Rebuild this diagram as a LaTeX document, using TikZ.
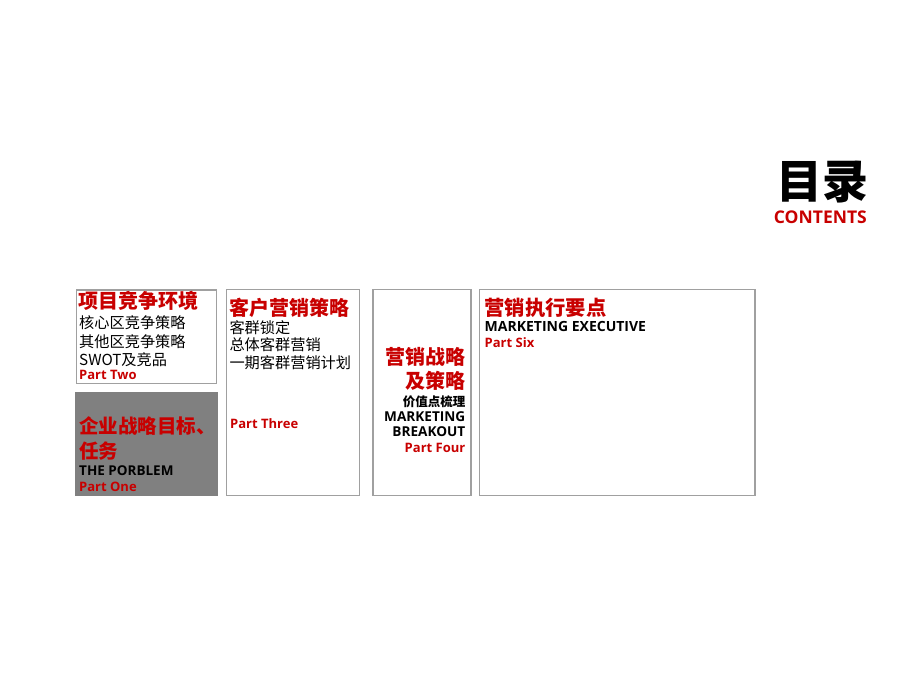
\documentclass[tikz,border=0pt]{standalone}
\usepackage{fontspec}
\usepackage{tikz}
\setmainfont{Open Sans}
\newfontfamily\cjk{Noto Sans CJK SC}
\definecolor{partred}{RGB}{200,0,0}
\definecolor{framegray}{RGB}{160,160,160}

\tikzset{
  box/.style={draw=framegray, line width=1.3pt},
  zhhead/.style={inner sep=0, text=partred, font=\cjk\bfseries\fontsize{#1}{#1}\selectfont},
  zhhead/.default=20,
  zhline/.style={inner sep=0, text=black, font=\cjk\fontsize{15.2}{15.2}\selectfont},
  enline/.style={inner sep=0, text=black, font=\bfseries\fontsize{#1}{#1}\selectfont},
  enline/.default=13.3,
  partlabel/.style={inner sep=0, text=partred, font=\bfseries\fontsize{13}{13}\selectfont}
}

\begin{document}
\begin{tikzpicture}[x=1pt, y=-1pt]

\useasboundingbox (0,0) rectangle (920,690);

\node[inner sep=0, font=\cjk\bfseries\fontsize{46}{46}\selectfont, anchor=base east] (mulu) at (869,198) {目录};
\node[inner sep=0, text=partred, font=\bfseries\fontsize{17.5}{17.5}\selectfont, anchor=base east] (contents) at (867,223.5) {CONTENTS};

\draw[box] (76.7,290) rectangle (216.7,383.3);
\fill[gray] (75,391.7) rectangle (217.7,496);
\draw[box] (226.7,289.5) rectangle (359.5,495.7);
\draw[box] (373,289.5) rectangle (471,495.7);
\draw[box] (479.7,289.7) rectangle (755,495.7);

\node[zhhead, anchor=base west] (two) at (78.5,308.5) {项目竞争环境};
\node[zhline, anchor=base west] (twoa) at (79,328.8) {核心区竞争策略};
\node[zhline, anchor=base west] (twob) at (79,347) {其他区竞争策略};
\node[zhline, anchor=base west] (twoc) at (79,365.3) {SWOT及竞品};
\node[partlabel, anchor=base west] (twopart) at (79,379) {Part Two};

\node[zhhead=19.5, anchor=base west] (one) at (79,433.5) {企业战略目标、};
\node[zhhead=19.5, anchor=base west] (onea) at (79,458.5) {任务};
\node[enline=13.5, anchor=base west] (oneb) at (79,475.7) {THE PORBLEM};
\node[partlabel, anchor=base west] (onepart) at (79,491) {Part One};

\node[zhhead, anchor=base west] (three) at (229.3,315) {客户营销策略};
\node[zhline, anchor=base west] (threea) at (229.3,333) {客群锁定};
\node[zhline, anchor=base west] (threeb) at (229.3,350.5) {总体客群营销};
\node[zhline, anchor=base west] (threec) at (229.3,368.7) {一期客群营销计划};
\node[partlabel, anchor=base west] (threepart) at (230,428.3) {Part Three};

\node[zhhead, anchor=base east] (four) at (465.5,364.5) {营销战略};
\node[zhhead, anchor=base east] (foura) at (465.5,388) {及策略};
\node[inner sep=0, font=\cjk\bfseries\fontsize{12.5}{12.5}\selectfont, anchor=base east] (fourb) at (465.5,406.5) {价值点梳理};
\node[enline=13.6, anchor=base east] (fourc) at (465.5,421) {MARKETING};
\node[enline=13.6, anchor=base east] (fourd) at (465.5,436.7) {BREAKOUT};
\node[partlabel, anchor=base east] (fourpart) at (465.5,452) {Part Four};

\node[zhhead=20.3, anchor=base west] (six) at (484.3,315) {营销执行要点};
\node[enline=14, anchor=base west] (sixa) at (484.5,331.7) {MARKETING EXECUTIVE};
\node[partlabel, anchor=base west] (sixpart) at (484.5,347.5) {Part Six};

\end{tikzpicture}
\end{document}
